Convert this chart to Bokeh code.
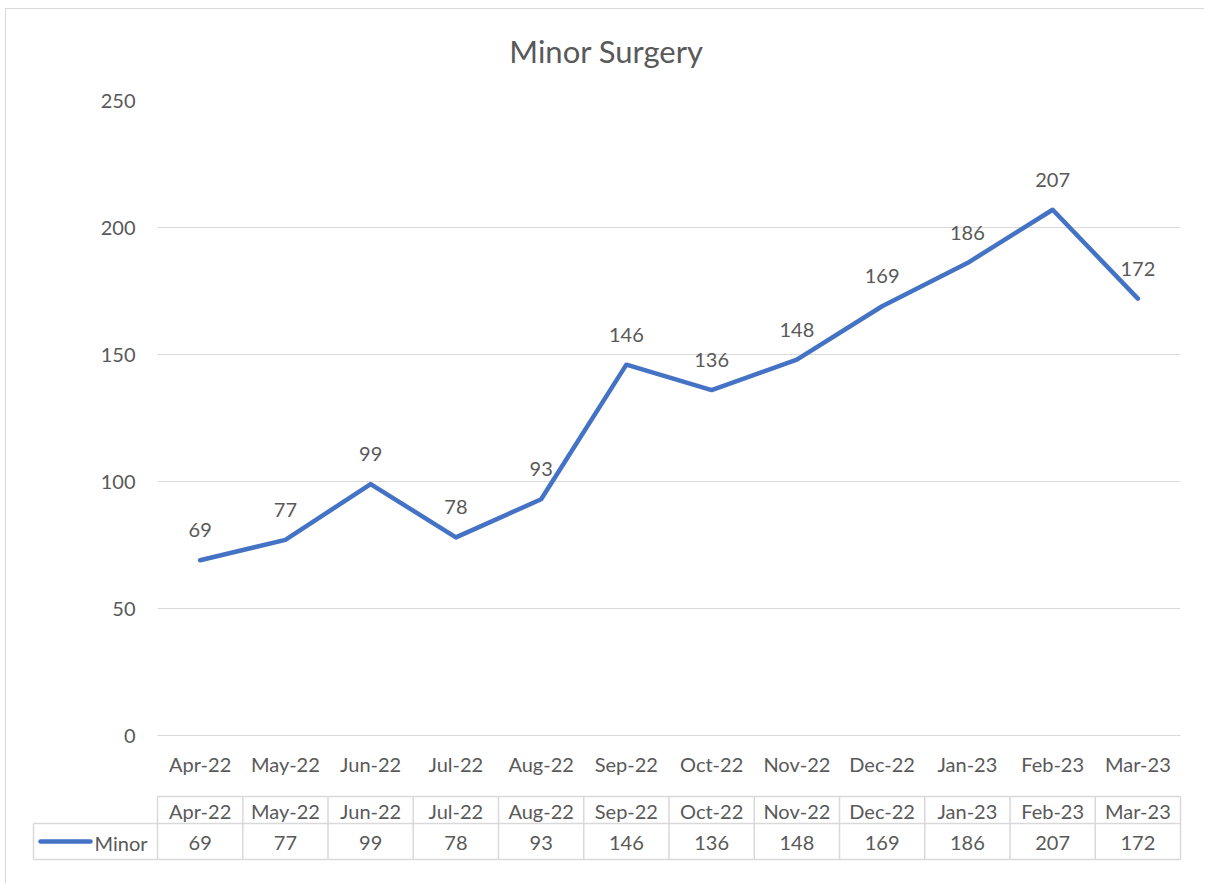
from bokeh.plotting import figure
from bokeh.models import Range1d, FixedTicker, FactorRange, ColumnDataSource
from bokeh.core.properties import value
from bokeh.embed import file_html
from bokeh.resources import INLINE

months = ["Apr-22", "May-22", "Jun-22", "Jul-22", "Aug-22", "Sep-22",
          "Oct-22", "Nov-22", "Dec-22", "Jan-23", "Feb-23", "Mar-23"]
minor = [69, 77, 99, 78, 93, 146, 136, 148, 169, 186, 207, 172]
y_ticks = [0, 50, 100, 150, 200, 250]
series_name = "Minor"
title_text = "Minor Surgery"

FONT = "Lato"
FS = "20px"
TXT = "#595959"
GRID = "#d9d9d9"
LINE = "#4472C4"
OX, OY = 6, 9          # page offset of content (after border)
W = 1205 - OX
TOP_H = 80 - OY        # title strip height
n = len(months)
cw = (1180 - 157) / n
x0 = -(157 - OX) / cw

BORDER = "1px solid #d9d9d9"

def bare(height, ymax, styles):
    f = figure(width=W, height=height, x_range=Range1d(x0, x0 + W / cw), y_range=Range1d(ymax, 0),
               output_backend="svg", toolbar_location=None, min_border=0, min_border_left=0,
               min_border_right=0, min_border_top=0, min_border_bottom=0, styles=styles)
    f.axis.visible = False
    f.grid.visible = False
    f.outline_line_color = None
    return f

# title strip
ttl = bare(TOP_H, TOP_H, {"margin-left": "5px", "margin-top": "8px",
                          "border-left": BORDER, "border-top": BORDER})
ttl.text(x=[(606 - 157) / cw], y=[50 - OY], text=[title_text], text_align="center",
         text_baseline="middle", text_font=value(FONT), text_font_size="31px", text_color=TXT)

# main chart
src = ColumnDataSource(dict(m=months, v=minor, lab=[str(v) for v in minor]))
p = figure(width=W, height=788 - 80, x_range=FactorRange(*months, range_padding=0),
           y_range=Range1d(0, 250), output_backend="svg", toolbar_location=None,
           min_border_left=157 - OX, min_border_right=W + OX - 1180,
           min_border_top=101 - 80, min_border_bottom=788 - 736,
           styles={"margin-left": "5px", "border-left": BORDER})
p.outline_line_color = None
p.xgrid.visible = False
p.ygrid.grid_line_color = GRID
p.ygrid.grid_line_width = 1
p.yaxis.ticker = FixedTicker(ticks=y_ticks)
p.yaxis.axis_line_color = None
p.yaxis.major_tick_line_color = None
p.yaxis.minor_tick_line_color = None
p.yaxis.major_tick_out = 0
p.yaxis.major_label_standoff = 22
p.xaxis.axis_line_color = GRID
p.xaxis.major_tick_line_color = None
p.xaxis.major_tick_out = 0
p.xaxis.major_label_standoff = 16
for ax in (p.xaxis, p.yaxis):
    ax.major_label_text_font = FONT
    ax.major_label_text_font_size = FS
    ax.major_label_text_color = TXT

p.line("m", "v", source=src, line_color=LINE, line_width=4.5, line_join="round", line_cap="round")
p.text("m", "v", text="lab", source=src, text_align="center", text_baseline="middle",
       y_offset=-30, text_font=value(FONT), text_font_size=FS, text_color=TXT)

# data table
H = 884 - 788
t = bare(H, H, {"margin-left": "5px", "border-left": BORDER})
leg_left = (33 - 157) / cw
top, mid, bot = 797 - 788, 824 - 788, 860 - 788
t.segment(x0=[0, leg_left, leg_left], y0=[top, mid, bot], x1=[n, n, n], y1=[top, mid, bot],
          line_color=GRID, line_width=1.5)
t.segment(x0=[leg_left], y0=[mid], x1=[leg_left], y1=[bot], line_color=GRID, line_width=1.5)
t.segment(x0=list(range(n + 1)), y0=[top] * (n + 1), x1=list(range(n + 1)), y1=[bot] * (n + 1),
          line_color=GRID, line_width=1.5)
cx = [i + 0.5 for i in range(n)]
t.text(x=cx, y=[(top + mid) / 2 + 1] * n, text=months, text_align="center", text_baseline="middle",
       text_font=value(FONT), text_font_size=FS, text_color=TXT)
t.text(x=cx, y=[(mid + bot) / 2 + 1] * n, text=[str(v) for v in minor], text_align="center",
       text_baseline="middle", text_font=value(FONT), text_font_size=FS, text_color=TXT)
t.line(x=[(40 - 157) / cw, (90 - 157) / cw], y=[(mid + bot) / 2] * 2, line_color=LINE,
       line_width=4.5, line_cap="round")
t.text(x=[(94 - 157) / cw], y=[(mid + bot) / 2 + 1], text=[series_name], text_align="left",
       text_baseline="middle", text_font=value(FONT), text_font_size=FS, text_color=TXT)

open("out.html", "w").write(file_html([ttl, p, t], INLINE))
